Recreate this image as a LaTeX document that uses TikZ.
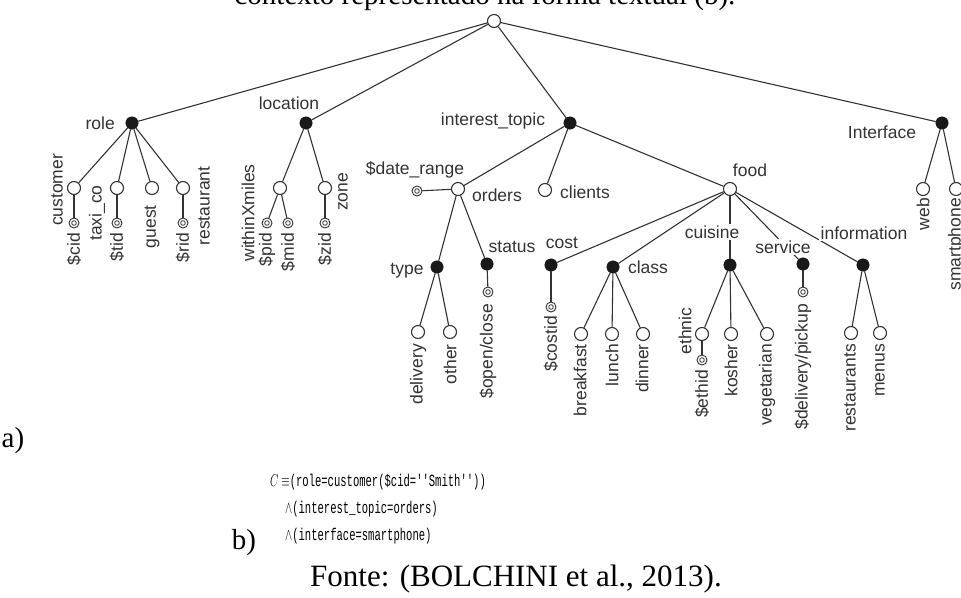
\documentclass[tikz,border=0pt]{standalone}
\usepackage{fontspec}
\usepackage{graphicx}
\setmainfont{Liberation Serif}
\setsansfont{Liberation Sans}
\newfontfamily\fmono{Liberation Mono}
\begin{document}
\begin{tikzpicture}[x=1pt,y=-1pt,
  conn/.style={draw=black!80, line width=1.1pt},
  onode/.style={circle, draw=black!80, fill=white, line width=1.1pt, minimum size=13pt, inner sep=0pt},
  fnode/.style={circle, draw=black!90, fill=black!90, minimum size=12.5pt, inner sep=0pt},
  pnode/.style={circle, draw=black!80, fill=white, line width=0.9pt, minimum size=10pt, inner sep=0pt,
     path picture={\draw[black!80, line width=0.8pt] (path picture bounding box.center) circle (2.3pt);}},
  lbl/.style={font=\sffamily\fontsize{17.5}{18}\selectfont, text=black!80, inner sep=1pt},
  vl/.style={lbl, rotate=90, anchor=east},
  vc/.style={lbl, rotate=90},
  wl/.style={lbl, fill=white, inner sep=2pt},
  serifbig/.style={font=\fontsize{29}{30}\selectfont, inner sep=0pt},
  formula/.style={anchor=west, font=\fmono\fontsize{17}{17}\selectfont, inner sep=0pt}
]
\useasboundingbox (0,0) rectangle (961,597);
\fill[white] (0,0) rectangle (961,597);

% caption (cut at the top)
\node[serifbig, anchor=base] (cap) at (485,5) {contexto representado na forma textual (b).};

% tree nodes
\node[onode] (root) at (494,21) {};
\node[fnode] (role) at (132,123) {};
\node[fnode] (loc) at (306,123) {};
\node[fnode] (it) at (570,123) {};
\node[fnode] (intf) at (942,123) {};
\node[onode] (cust) at (74,188) {};
\node[pnode] (custp) at (74,223) {};
\node[onode] (taxi) at (117,188) {};
\node[pnode] (taxip) at (117,223) {};
\node[onode] (guest) at (152,188) {};
\node[onode] (rest) at (183,188) {};
\node[pnode] (restp) at (183,223) {};
\node[onode] (within) at (280,188) {};
\node[pnode] (pidp) at (267,223) {};
\node[pnode] (midp) at (288,223) {};
\node[onode] (zone) at (325,188) {};
\node[pnode] (zidp) at (325,223) {};
\node[onode] (orders) at (458,189) {};
\node[pnode] (datep) at (417,191) {};
\node[onode] (clients) at (545,190) {};
\node[onode] (food) at (730,189) {};
\node[fnode] (type) at (437,267) {};
\node[onode] (deliv) at (418,332) {};
\node[onode] (other) at (450,332) {};
\node[fnode] (status) at (487,264) {};
\node[pnode] (statusp) at (488,292) {};
\node[fnode] (cost) at (551,265) {};
\node[pnode] (costp) at (551,307) {};
\node[fnode] (class) at (613,267) {};
\node[onode] (bfast) at (581,334) {};
\node[onode] (lunch) at (612,334) {};
\node[onode] (dinner) at (643,334) {};
\node[fnode] (cuisine) at (730,265) {};
\node[onode] (ethnic) at (702,334) {};
\node[pnode] (ethp) at (702,360) {};
\node[onode] (kosher) at (731,334) {};
\node[onode] (veg) at (767,334) {};
\node[fnode] (service) at (803,264) {};
\node[pnode] (servp) at (803,292) {};
\node[fnode] (info) at (863,265) {};
\node[onode] (rests) at (851,333) {};
\node[onode] (menus) at (880,333) {};
\node[onode] (web) at (923,189) {};
\node[onode] (smart) at (956,189) {};

% edges
\draw[conn] (root) -- (role);
\draw[conn] (root) -- (loc);
\draw[conn] (root) -- (it);
\draw[conn] (root) -- (intf);
\draw[conn] (role) -- (cust);
\draw[conn] (role) -- (taxi);
\draw[conn] (role) -- (guest);
\draw[conn] (role) -- (rest);
\draw[conn] (cust) -- (custp);
\draw[conn] (taxi) -- (taxip);
\draw[conn] (rest) -- (restp);
\draw[conn] (loc) -- (within);
\draw[conn] (loc) -- (zone);
\draw[conn] (within) -- (pidp);
\draw[conn] (within) -- (midp);
\draw[conn] (zone) -- (zidp);
\draw[conn] (it) -- (orders);
\draw[conn] (it) -- (clients);
\draw[conn] (it) -- (food);
\draw[conn] (datep) -- (orders);
\draw[conn] (orders) -- (type);
\draw[conn] (orders) -- (status);
\draw[conn] (type) -- (deliv);
\draw[conn] (type) -- (other);
\draw[conn] (status) -- (statusp);
\draw[conn] (food) -- (cost);
\draw[conn] (food) -- (class);
\draw[conn] (food) -- (cuisine);
\draw[conn] (food) -- (service);
\draw[conn] (food) -- (info);
\draw[conn] (cost) -- (costp);
\draw[conn] (class) -- (bfast);
\draw[conn] (class) -- (lunch);
\draw[conn] (class) -- (dinner);
\draw[conn] (cuisine) -- (ethnic);
\draw[conn] (cuisine) -- (kosher);
\draw[conn] (cuisine) -- (veg);
\draw[conn] (ethnic) -- (ethp);
\draw[conn] (service) -- (servp);
\draw[conn] (info) -- (rests);
\draw[conn] (info) -- (menus);
\draw[conn] (intf) -- (web);
\draw[conn] (intf) -- (smart);

% labels
\node[lbl, anchor=east] (lrole) at (116,123) {role};
\node[lbl] (lloc) at (289,103) {location};
\node[lbl] (lit) at (493,121) {interest\_topic};
\node[lbl] (lintf) at (882,132) {Interface};
\node[vc] (lcust) at (57,190) {customer};
\node[vl] (lcid) at (74,232) {\$cid};
\node[vc] (ltaxi) at (97,213) {taxi\_co};
\node[vl] (ltid) at (117,232) {\$tid};
\node[vl] (lguest) at (152,204) {guest};
\node[vl] (lrid) at (183,232) {\$rid};
\node[vc] (lrest) at (204,206) {restaurant};
\node[vc] (lwithin) at (248,213) {withinXmiles};
\node[vl] (lpid) at (267,232) {\$pid};
\node[vl] (lmid) at (288,232) {\$mid};
\node[vl] (lzid) at (325,232) {\$zid};
\node[vc] (lzone) at (343,192) {zone};
\node[lbl] (ldate) at (415,170) {\$date\_range};
\node[lbl] (lorders) at (497,195) {orders};
\node[lbl] (lclients) at (585,192) {clients};
\node[lbl] (lfood) at (750,170) {food};
\node[lbl] (ltype) at (407,271) {type};
\node[lbl] (lstatus) at (512,247) {status};
\node[vl] (ldeliv) at (418,343) {delivery};
\node[vl] (lother) at (450,343) {other};
\node[vl] (lopen) at (488,303) {\$open/close};
\node[lbl] (lcost) at (562,243) {cost};
\node[vl] (lcostid) at (551,315) {\$costid};
\node[lbl] (lclass) at (648,267) {class};
\node[vl] (lbf) at (580,343) {breakfast};
\node[vl] (llunch) at (612,343) {lunch};
\node[vl] (ldinner) at (642,343) {dinner};
\node[wl] (lcuisine) at (712,232) {cuisine};
\node[vc] (lethnic) at (685,331) {ethnic};
\node[vl] (lethid) at (702,369) {\$ethid};
\node[vl] (lkosher) at (731,343) {kosher};
\node[vl] (lveg) at (767,343) {vegetarian};
\node[wl] (lservice) at (783,247) {service};
\node[vl] (ldp) at (803,303) {\$delivery/pickup};
\node[wl] (linfo) at (864,233) {information};
\node[vl] (lrests) at (850,343) {restaurants};
\node[vl] (lmenus) at (880,343) {menus};
\node[vl] (lweb) at (923,197) {web};
\node[vl] (lsmart) at (956,197) {smartphone};

% bottom part
\node[serifbig] (la) at (13,441) {a)};
\node[serifbig] (lb) at (244,543) {b)};
\node[formula] (f1) at (270,482) {\scalebox{0.62}[1]{$C\equiv$(role=customer(\$cid=''Smith''))}};
\node[formula] (f2) at (285,509) {\scalebox{0.62}[1]{$\wedge$(interest\_topic=orders)}};
\node[formula] (f3) at (285,536) {\scalebox{0.62}[1]{$\wedge$(interface=smartphone)}};
\node[serifbig, anchor=base, font=\fontsize{31}{32}\selectfont] (fonte) at (516,586) {Fonte: (BOLCHINI et al., 2013).};
\end{tikzpicture}
\end{document}
